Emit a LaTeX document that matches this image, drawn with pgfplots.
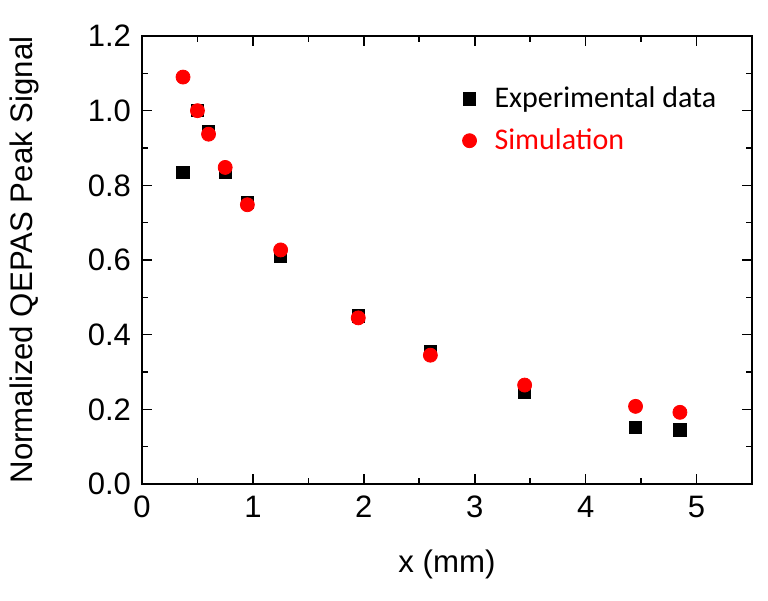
\documentclass[border=0pt]{standalone}
\usepackage{fontspec}
\setmainfont{Liberation Sans}
\newfontfamily\calib{Carlito}
\usepackage{pgfplots}
\pgfplotsset{compat=1.18}
\begin{document}
\begin{tikzpicture}
\begin{axis}[
  scale only axis,
  width=305pt, height=224pt,
  xmin=0, xmax=5.5, ymin=0, ymax=1.2,
  xtick={0,1,2,3,4,5},
  ytick={0,0.2,...,1.2},
  minor x tick num=1,
  minor y tick num=1,
  xtick pos=both, ytick pos=both,
  xticklabel pos=lower, yticklabel pos=left,
  tick align=inside,
  major tick length=5pt,
  minor tick length=3pt,
  axis line style={line width=0.9pt},
  every tick/.style={line width=0.8pt, black},
  x tick label style={/pgf/number format/fixed, yshift=-2.5pt},
  y tick label style={/pgf/number format/fixed, /pgf/number format/fixed zerofill, /pgf/number format/precision=1, xshift=-2pt},
  /pgf/number format/assume math mode=true,
  tick label style={font=\fontsize{15.5}{18}\selectfont},
  xlabel={x (mm)},
  ylabel={Normalized QEPAS Peak Signal},
  label style={font=\fontsize{15.6}{18}\selectfont},
  xlabel style={at={(axis description cs:0.5,-0.179)}, anchor=center},
  ylabel style={at={(axis description cs:-0.192,0.5)}, anchor=center},
  legend style={draw=none, fill=none, at={(0.515,0.905)}, anchor=north west,
    font=\calib\fontsize{15}{18}\selectfont, row sep=5pt,
    /tikz/every odd column/.append style={column sep=7pt}},
  legend cell align=left,
]
\addplot[only marks, mark=square*, mark size=3.1pt, black] coordinates {
  (0.37,0.835) (0.5,1.0) (0.6,0.945) (0.75,0.835) (0.95,0.755) (1.25,0.61)
  (1.95,0.45) (2.6,0.355) (3.45,0.245) (4.45,0.152) (4.85,0.145)
};
\addlegendentry{Experimental data}
\addplot[only marks, mark=*, mark size=3.5pt, red, mark options={fill=red, draw=red}] coordinates {
  (0.37,1.09) (0.5,1.0) (0.6,0.937) (0.75,0.848) (0.95,0.748) (1.25,0.627)
  (1.95,0.445) (2.6,0.345) (3.45,0.265) (4.45,0.208) (4.85,0.192)
};
\addlegendentry{\textcolor{red}{Simulation}}
\end{axis}
\pgfresetboundingbox
\path ([shift={(-71pt,-58pt)}]current axis.south west) rectangle ([shift={(8pt,18pt)}]current axis.north east);
\end{tikzpicture}
\end{document}
